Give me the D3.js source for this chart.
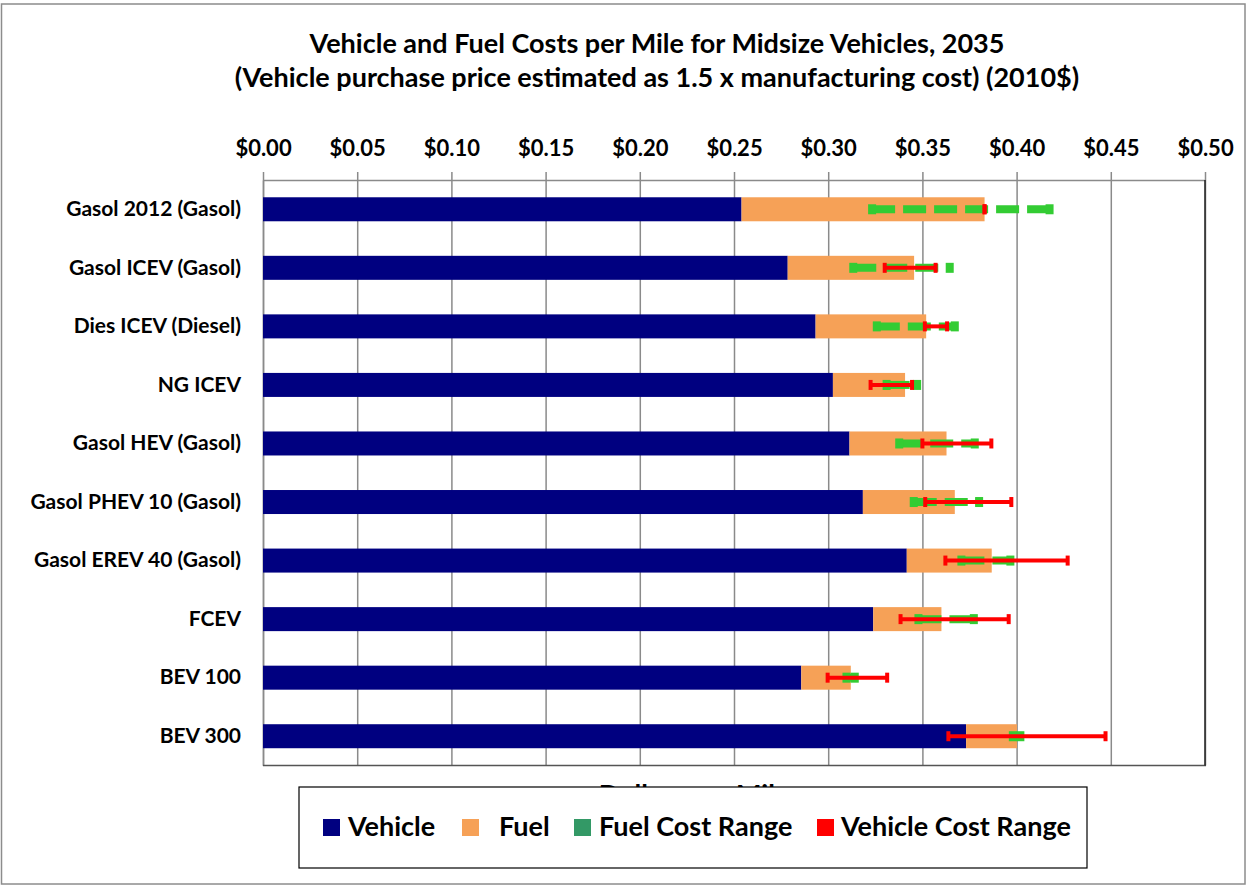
<!DOCTYPE html>
<html>
<head>
<meta charset="utf-8">
<script src="https://cdn.jsdelivr.net/npm/d3@7"></script>
<style>
  body { margin: 0; background: #fff; }
  text { font-family: Lato, "Open Sans", sans-serif; font-weight: bold; fill: #000; }
</style>
</head>
<body>
<div id="chart"></div>
<script>
// categories, top to bottom
const categories = [
  "Gasol 2012 (Gasol)", "Gasol ICEV (Gasol)", "Dies ICEV (Diesel)", "NG ICEV",
  "Gasol HEV (Gasol)", "Gasol PHEV 10 (Gasol)", "Gasol EREV 40 (Gasol)",
  "FCEV", "BEV 100", "BEV 300"
];
// cost per mile ($)
const vehicleCost = [0.254, 0.2785, 0.2933, 0.3025, 0.3113, 0.3184, 0.3417, 0.3239, 0.2857, 0.3732];
const fuelCost = [0.129, 0.0671, 0.0587, 0.0383, 0.0515, 0.0488, 0.0451, 0.0362, 0.0263, 0.027];
// range bars (absolute $ per mile)
const fuelRangeLow = [0.3233, 0.3133, 0.3258, 0.331, 0.3377, 0.3454, 0.3707, 0.3479, 0.3097, 0.398];
const fuelRangeHigh = [0.4175, 0.3645, 0.3672, 0.3472, 0.3778, 0.3801, 0.3967, 0.3773, 0.3141, 0.402];
const vehRangeLow = [0.383, 0.330, 0.3513, 0.3225, 0.350, 0.3515, 0.3622, 0.3384, 0.2997, 0.3638];
const vehRangeHigh = [0.383, 0.357, 0.3631, 0.3445, 0.3866, 0.3972, 0.4271, 0.3958, 0.3313, 0.4472];
const xTicks = [0, 0.05, 0.1, 0.15, 0.2, 0.25, 0.3, 0.35, 0.4, 0.45, 0.5];

const legendItems = [
  { name: "Vehicle", color: "#000080", x: 323, textX: 348 },
  { name: "Fuel", color: "#f6a157", x: 462, textX: 499 },
  { name: "Fuel Cost Range", color: "#339966", x: 574, textX: 599 },
  { name: "Vehicle Cost Range", color: "#ff0000", x: 817, textX: 841 }
];

const W = 1247, H = 886;
const plotL = 263, plotR = 1205, plotT = 180, plotB = 765.5;

const svg = d3.select("#chart").append("svg")
  .attr("width", W).attr("height", H);

// outer frame
svg.append("rect")
  .attr("x", 1.5).attr("y", 4).attr("width", W - 3.5).attr("height", H - 6)
  .attr("fill", "#fff").attr("stroke", "#8c8c8c").attr("stroke-width", 1.5);

// title
svg.append("text").attr("x", 657).attr("y", 53).attr("text-anchor", "middle")
  .style("font-size", "27px").text("Vehicle and Fuel Costs per Mile for Midsize Vehicles, 2035");
svg.append("text").attr("x", 657).attr("y", 87).attr("text-anchor", "middle")
  .style("font-size", "27px").text("(Vehicle purchase price estimated as 1.5 x manufacturing cost) (2010$)");

const x = d3.scaleLinear().domain([0, 0.5]).range([plotL, plotR]);
const y = d3.scaleBand().domain(categories).range([plotT, plotB])
  .paddingInner(0.59).paddingOuter(0.295);

// gridlines
svg.append("g")
  .attr("transform", `translate(0, ${plotB})`)
  .call(d3.axisBottom(x).tickValues(xTicks).tickSize(-(plotB - plotT)).tickFormat(""))
  .call(g => g.select(".domain").remove())
  .selectAll("line").attr("stroke", "#8a8a8a").attr("stroke-width", 1.5);

// top axis
const xAxis = svg.append("g")
  .attr("transform", `translate(0, ${plotT})`)
  .call(d3.axisTop(x).tickValues(xTicks).tickSize(8).tickSizeOuter(0).tickPadding(16)
    .tickFormat(d => "$" + d.toFixed(2)));
xAxis.select(".domain").attr("stroke", "#8a8a8a").attr("stroke-width", 1.5);
xAxis.selectAll(".tick line").attr("stroke", "#8a8a8a").attr("stroke-width", 1.5);
xAxis.selectAll("text").style("font-size", "22px").attr("fill", "#000");

// left axis (category labels)
const yAxis = svg.append("g")
  .attr("transform", `translate(${plotL}, 0)`)
  .call(d3.axisLeft(y).tickSize(0).tickPadding(22));
yAxis.select(".domain").attr("stroke", "#8a8a8a").attr("stroke-width", 1.5);
yAxis.selectAll("text").style("font-size", "21px").attr("fill", "#000");

// plot bottom / right borders
svg.append("line").attr("x1", plotL).attr("x2", plotR + 1).attr("y1", plotB).attr("y2", plotB)
  .attr("stroke", "#555").attr("stroke-width", 1.5);
svg.append("line").attr("x1", plotR).attr("x2", plotR).attr("y1", plotT).attr("y2", plotB)
  .attr("stroke", "#222").attr("stroke-width", 1.5);

const rows = categories.map((c, i) => ({
  cat: c, veh: vehicleCost[i], fuel: fuelCost[i],
  fLo: fuelRangeLow[i], fHi: fuelRangeHigh[i],
  vLo: vehRangeLow[i], vHi: vehRangeHigh[i]
}));

// stacked bars
svg.selectAll(".bar-veh").data(rows).enter().append("rect")
  .attr("class", "bar-veh")
  .attr("x", x(0)).attr("y", d => y(d.cat))
  .attr("width", d => x(d.veh) - x(0)).attr("height", y.bandwidth())
  .attr("fill", "#000080");
svg.selectAll(".bar-fuel").data(rows).enter().append("rect")
  .attr("class", "bar-fuel")
  .attr("x", d => x(d.veh)).attr("y", d => y(d.cat))
  .attr("width", d => x(d.veh + d.fuel) - x(d.veh)).attr("height", y.bandwidth())
  .attr("fill", "#f6a157");

const cy = d => y(d.cat) + y.bandwidth() / 2;

// fuel cost range (green dashed)
svg.selectAll(".frange").data(rows).enter().append("line")
  .attr("x1", d => x(d.fLo)).attr("x2", d => x(d.fHi))
  .attr("y1", cy).attr("y2", cy)
  .attr("stroke", "#33cc33").attr("stroke-width", 8).attr("stroke-dasharray", "23,8");
["fLo", "fHi"].forEach(k => {
  svg.selectAll(".fcap-" + k).data(rows).enter().append("rect")
    .attr("x", d => x(d[k]) - 4).attr("y", d => cy(d) - 5)
    .attr("width", 8).attr("height", 10).attr("fill", "#33cc33");
});

// vehicle cost range (red)
svg.selectAll(".vrange").data(rows).enter().append("line")
  .attr("x1", d => x(d.vLo)).attr("x2", d => x(d.vHi))
  .attr("y1", cy).attr("y2", cy)
  .attr("stroke", "#ff0000").attr("stroke-width", 4);
["vLo", "vHi"].forEach(k => {
  svg.selectAll(".vcap-" + k).data(rows).enter().append("rect")
    .attr("x", d => x(d[k]) - 2).attr("y", d => cy(d) - 5)
    .attr("width", 4).attr("height", 10).attr("fill", "#ff0000");
});

// axis title (mostly hidden by legend)
svg.append("text").attr("x", 694).attr("y", 804).attr("text-anchor", "middle")
  .style("font-size", "27px").text("Dollars per Mile");

// legend
const lg = svg.append("g");
lg.append("rect").attr("x", 299).attr("y", 787).attr("width", 788).attr("height", 81)
  .attr("fill", "#fff").attr("stroke", "#000").attr("stroke-width", 1.2);
legendItems.forEach(it => {
  lg.append("rect").attr("x", it.x).attr("y", 819).attr("width", 17).attr("height", 17)
    .attr("fill", it.color);
  lg.append("text").attr("x", it.textX).attr("y", 836)
    .style("font-size", "27px").text(it.name);
});
</script>
</body>
</html>
